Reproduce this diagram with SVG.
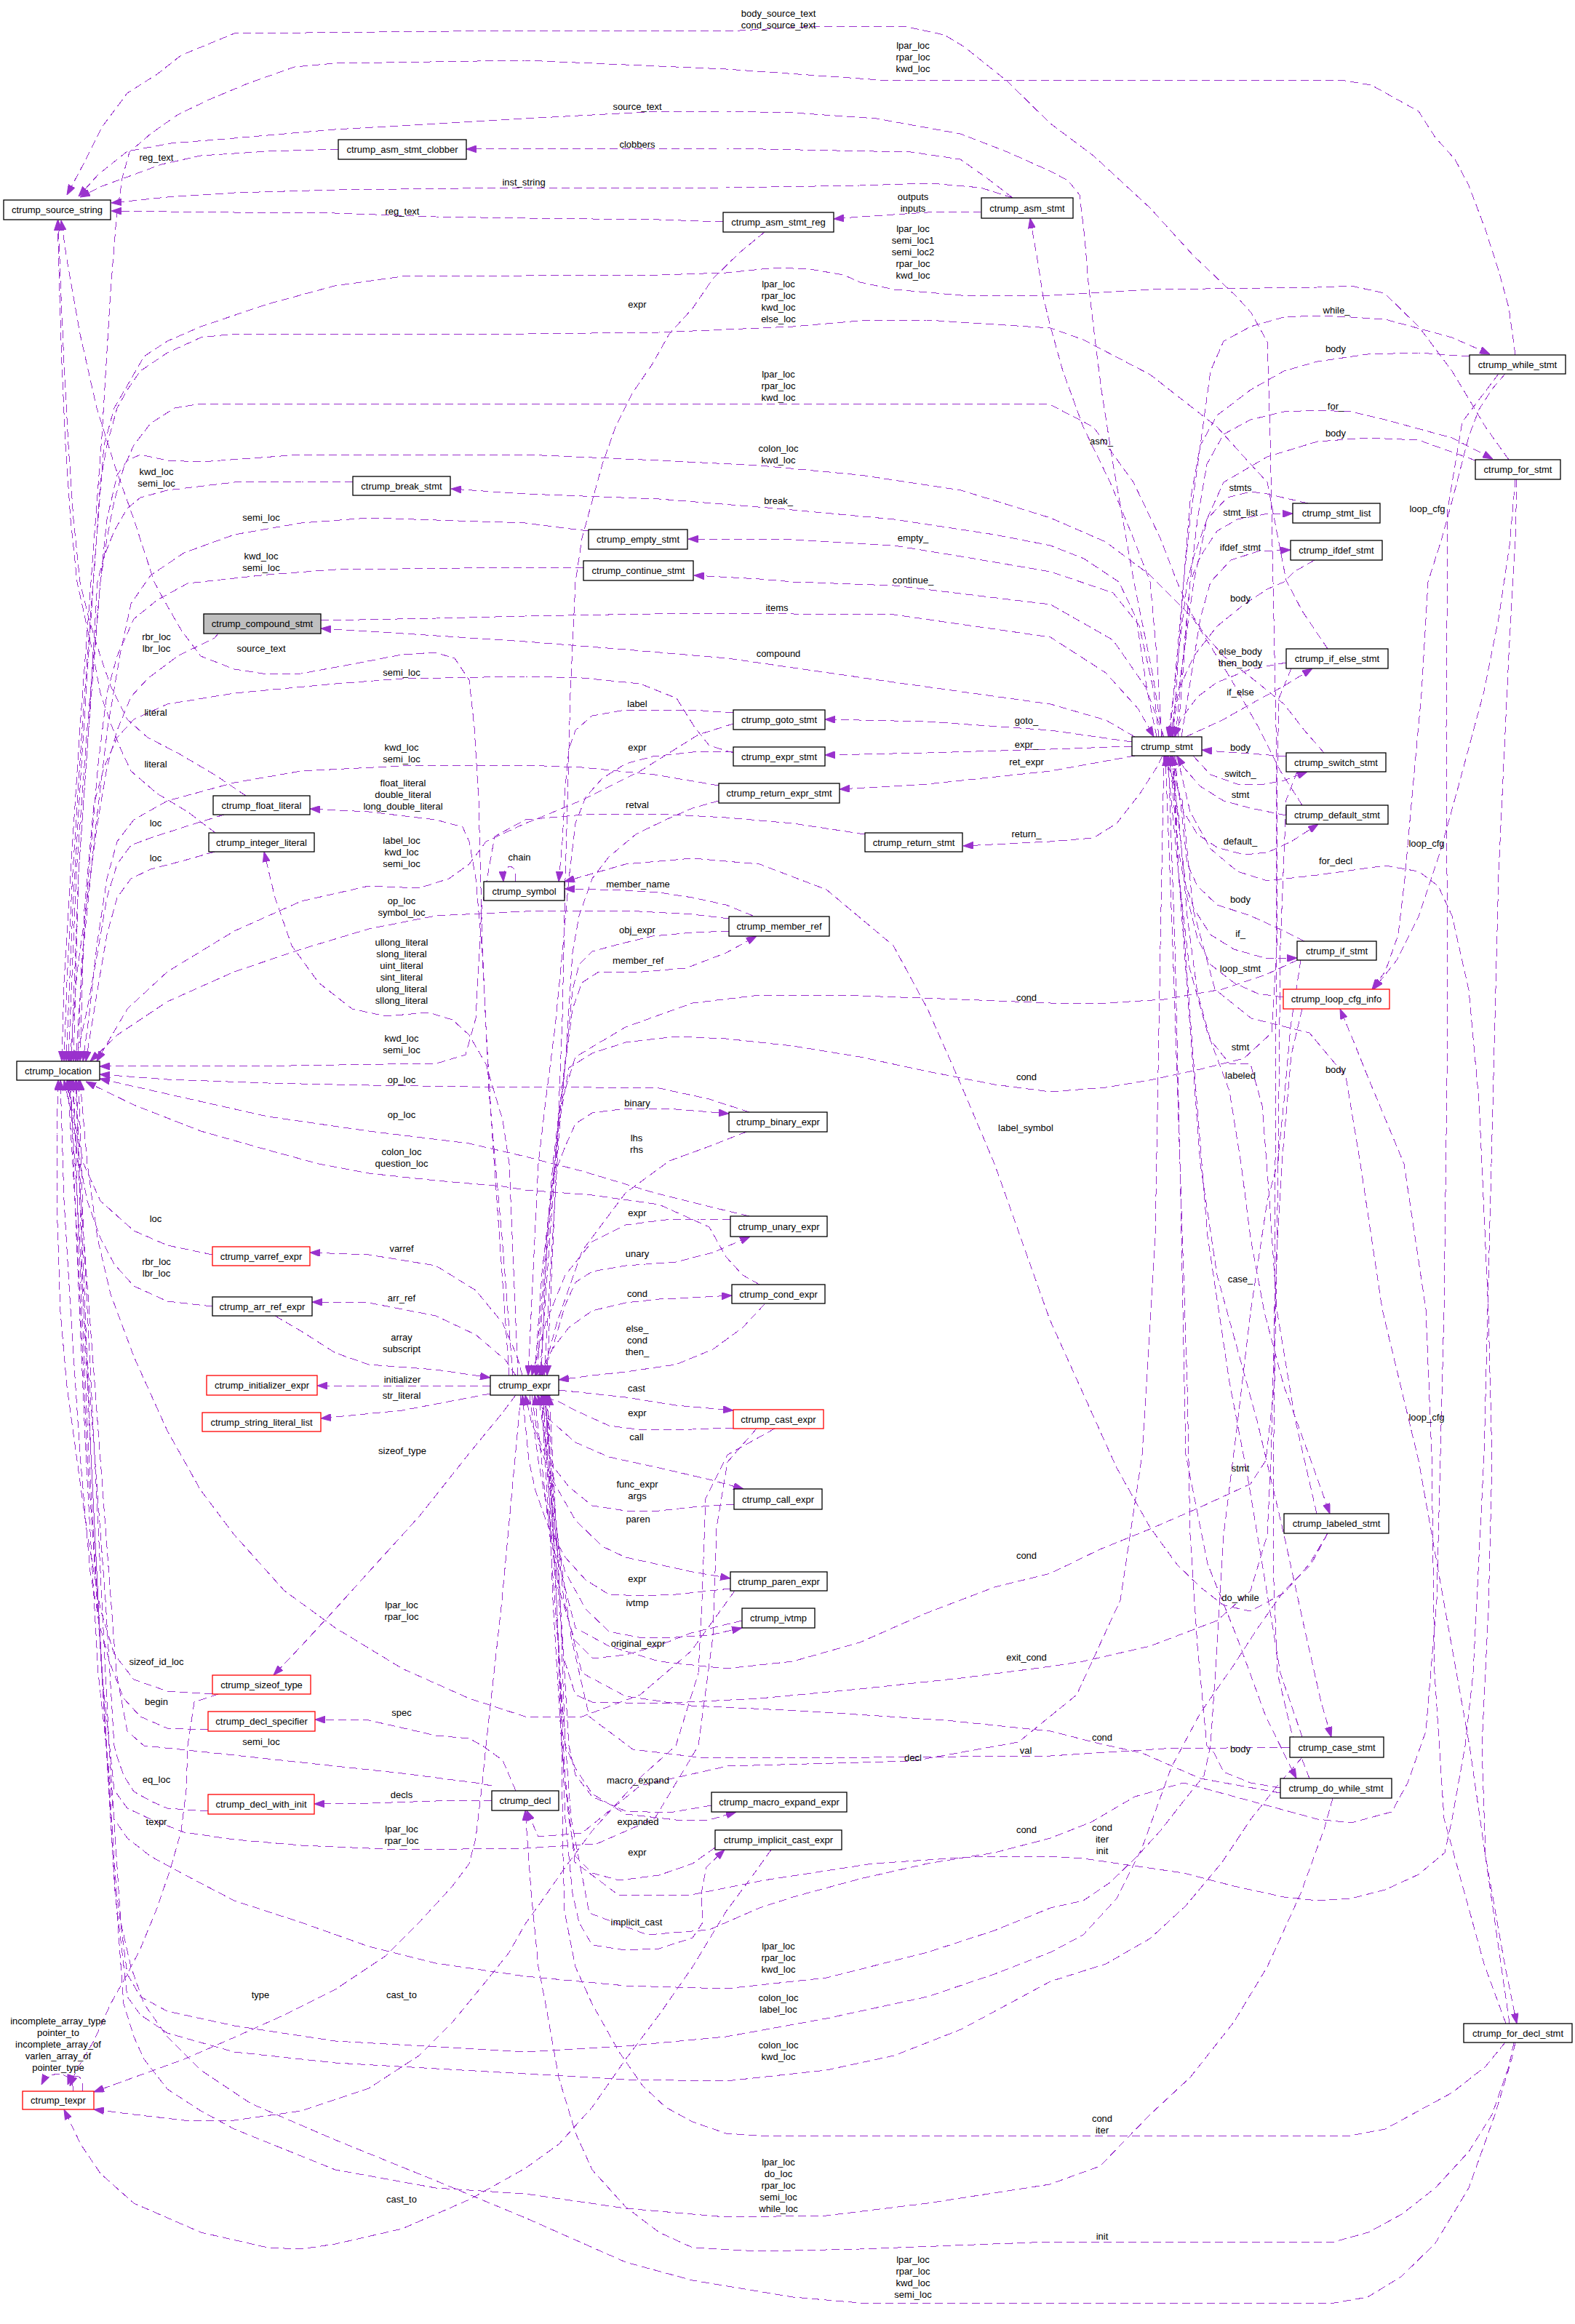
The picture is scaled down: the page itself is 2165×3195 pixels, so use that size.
<svg xmlns="http://www.w3.org/2000/svg" width="2165" height="3195" viewBox="0 0 2165 3195">
<defs>
<marker id="a" markerWidth="14" markerHeight="10" refX="14" refY="5" orient="auto" markerUnits="userSpaceOnUse"><path d="M0,0 L14,5 L0,10 z" fill="#9a32cd" stroke="#9a32cd" stroke-width="1"/></marker>
<style>
.e{fill:none;stroke:#9a32cd;stroke-width:1;stroke-dasharray:11,6;stroke-linejoin:round;shape-rendering:crispEdges;marker-end:url(#a)}
.n{fill:#fff;stroke:#000;stroke-width:1.3}
.r{fill:#fff;stroke:#f00;stroke-width:1.3}
.g{fill:#bfbfbf;stroke:#000;stroke-width:1.3}
text{font-family:"Liberation Sans",Arial,sans-serif;font-size:13px;text-anchor:middle;fill:#000}
</style>
</defs>
<rect width="2165" height="3195" fill="#fff"/>
<g id="edges">
<path class="e" d="M1800,2445 1775,2380 1756,2300 1750,2150 1752,1800 1754,1400 1754,1000 1750,800 1746,600 1742,470 1720,430 1700,408 1641,352 1581,286 1503,214 1444,170 1385,112 1325,64 1298,48 1242,36 1123,36 1017,42 722,42 322,46 249,76 216,102 175,128 140,175 115,225 92,268"/>
<path class="e" d="M1598,1013 1585,930 1558,796 1530,638 1514,536 1503,449 1496,388 1491,326 1484,268 1468,248 1443,235 1385,209 1320,184 1205,163 1090,155 998,153 906,153 814,158 722,163 460,178 322,190 235,197 175,208 135,240 108,270"/>
<path class="e" d="M465,205 368,208 276,214 222,226 184,240 140,256 110,271"/>
<path class="e" d="M1392,272 1348,258 1279,252 1182,255 998,258 722,258 460,261 322,265 230,271 153,279"/>
<path class="e" d="M994,305 906,302 722,300 599,298 460,293 322,292 230,291 153,290"/>
<path class="e" d="M705,1891 690,1700 672,1500 663,1300 658,1100 652,1000 645,935 625,905 598,897 552,900 490,912 414,926 368,927 322,920 276,902 249,866 226,826 212,800 184,714 157,638 133,561 110,459 92,357 84,303"/>
<path class="e" d="M338,1094 295,1065 244,1035 203,1014 175,989 152,943 138,902 122,850 110,800 101,714 94,612 88,500 84,408 80,303"/>
<path class="e" d="M296,1145 258,1116 216,1091 180,1060 166,1030 152,994 138,953 128,900 117,850 106,800 97,714 90,612 85,500 82,408 79,303"/>
<path class="e" d="M2083,488 2074,423 2060,372 2042,316 2019,255 2000,219 1973,189 1950,153 1885,117 1843,110 1443,110 1210,110 998,95 722,83 460,87 405,92 340,115 285,138 244,158 207,184 178,209 168,245 160,300 152,400 140,600 125,800 110,1000 97,1200 88,1350 85,1459"/>
<path class="e" d="M2074,632 2042,587 1996,510 1950,449 1903,403 1857,393 1811,395 1581,398 1443,406 1321,406 1229,398 1182,388 1160,378 1113,370 1067,368 998,375 906,378 722,379 553,380 460,393 368,418 276,449 230,469 198,490 175,530 157,561 143,612 128,800 113,1000 100,1200 92,1350 88,1459"/>
<path class="e" d="M1825,892 1790,840 1768,798 1742,663 1719,638 1673,587 1581,515 1489,467 1444,451 1274,440 1182,441 1090,449 906,457 722,459 322,459 276,464 230,485 193,510 175,536 161,561 147,612 138,663 125,850 112,1050 100,1250 91,1459"/>
<path class="e" d="M1820,1035 1793,1004 1765,968 1728,938 1682,902 1655,871 1636,841 1618,800 1595,740 1558,663 1503,587 1443,556 1000,555 722,555 276,555 240,561 207,582 184,612 170,643 157,689 147,740 138,800 120,1000 105,1200 94,1459"/>
<path class="e" d="M1790,1107 1760,1060 1730,1000 1690,930 1640,850 1580,790 1520,745 1444,712 1321,674 1182,653 1044,640 906,633 722,625 414,625 276,635 230,633 193,625 175,633 161,653 147,714 138,800 122,1000 108,1200 98,1459"/>
<path class="e" d="M485,663 414,662 322,663 230,674 193,684 175,699 157,730 143,765 134,800 122,1000 108,1200 101,1459"/>
<path class="e" d="M809,730 768,725 722,719 507,712 414,719 322,735 253,760 207,791 180,830 165,900 148,1000 130,1150 115,1300 104,1459"/>
<path class="e" d="M802,781 722,780 461,783 368,790 276,800 258,802 216,825 184,851 161,902 147,953 135,1050 122,1200 112,1330 107,1459"/>
<path class="e" d="M300,871 295,877 244,902 203,933 180,958 161,1004 147,1055 134,1132 120,1234 106,1336 96,1459"/>
<path class="e" d="M1008,1035 975,1025 955,1000 930,960 880,940 800,932 722,930 553,933 461,940 322,953 230,968 184,989 161,1014 143,1055 129,1106 116,1250 110,1459"/>
<path class="e" d="M988,1080 900,1065 800,1055 722,1052 553,1053 414,1060 322,1076 230,1101 184,1127 161,1157 147,1208 133,1300 122,1400 114,1459"/>
<path class="e" d="M1008,995 960,1010 880,1060 800,1100 740,1125 722,1132 668,1157 645,1188 617,1208 576,1221 507,1218 414,1239 322,1280 230,1336 175,1387 133,1459"/>
<path class="e" d="M1189,1147 1090,1132 998,1124 906,1119 814,1119 722,1127 680,1150 662,1250 654,1400 640,1450 600,1462 400,1465 137,1466"/>
<path class="e" d="M1002,1263 952,1257 860,1252 722,1253 599,1259 507,1277 414,1305 322,1336 230,1377 161,1423 124,1459"/>
<path class="e" d="M1030,1529 975,1511 906,1496 722,1494 645,1494 507,1492 368,1489 230,1484 137,1477"/>
<path class="e" d="M1030,1672 980,1660 900,1640 800,1610 722,1590 645,1572 507,1555 368,1535 230,1504 137,1483"/>
<path class="e" d="M1044,1766 1021,1753 998,1728 975,1687 906,1656 814,1643 722,1636 691,1631 599,1623 507,1613 438,1600 368,1581 276,1555 184,1519 118,1487"/>
<path class="e" d="M292,1725 230,1712 184,1692 138,1651 115,1600 100,1530 92,1485"/>
<path class="e" d="M292,1796 230,1789 184,1768 157,1738 138,1702 120,1651 110,1600 98,1530 88,1485"/>
<path class="e" d="M292,2329 230,2325 184,2309 157,2274 138,2212 120,2110 106,2008 92,1906 83,1804 78,1651 78,1560 80,1485"/>
<path class="e" d="M286,2378 230,2376 193,2360 170,2335 152,2289 138,2238 124,2161 110,2000 97,1800 88,1650 83,1485"/>
<path class="e" d="M286,2490 230,2486 207,2476 184,2463 170,2441 161,2415 157,2400 145,2200 130,2000 115,1800 103,1600 95,1485"/>
<path class="e" d="M676,2455 654,2451 553,2438 461,2428 368,2418 276,2408 198,2400 175,2380 160,2300 145,2100 130,1900 115,1700 104,1560 99,1485"/>
<path class="e" d="M308,1120 253,1137 207,1152 180,1162 161,1188 147,1234 134,1310 120,1387 104,1459"/>
<path class="e" d="M295,1171 253,1183 207,1195 180,1208 161,1234 147,1285 134,1361 118,1459"/>
<path class="e" d="M1010,2187 950,2270 880,2330 800,2360 722,2360 645,2335 553,2294 461,2238 391,2187 322,2110 276,2049 230,1967 184,1865 152,1779 134,1702 120,1600 110,1485"/>
<path class="e" d="M1040,1964 1000,2010 985,2100 980,2250 960,2400 900,2500 820,2535 722,2541 553,2543 414,2537 322,2529 253,2519 207,2501 175,2486 157,2461 140,2300 125,2000 113,1700 105,1485"/>
<path class="e" d="M1788,1320 1774,1412 1765,1514 1756,1600 1742,1651 1719,1804 1701,1957 1682,2110 1673,2263 1664,2400 1655,2441 1627,2476 1595,2517 1563,2552 1526,2588 1489,2613 1444,2623 1367,2654 1275,2684 1136,2719 998,2734 860,2730 722,2717 599,2699 507,2676 414,2643 322,2613 253,2577 207,2552 175,2527 157,2501 135,2300 118,2000 105,1700 97,1485"/>
<path class="e" d="M1825,2108 1802,2151 1765,2187 1729,2238 1696,2289 1650,2355 1610,2430 1570,2540 1535,2610 1489,2660 1444,2684 1367,2714 1275,2745 1136,2775 998,2800 860,2813 722,2821 461,2806 322,2785 230,2765 193,2745 175,2714 160,2600 140,2300 120,2000 106,1700 93,1485"/>
<path class="e" d="M1790,2416 1760,2450 1720,2500 1680,2560 1630,2620 1581,2665 1520,2700 1444,2724 1321,2790 1229,2826 1136,2846 998,2861 860,2859 722,2851 461,2836 322,2821 230,2795 193,2770 175,2745 158,2600 140,2300 122,2000 108,1700 101,1485"/>
<path class="e" d="M1832,2472 1821,2512 1788,2603 1742,2704 1696,2780 1636,2856 1581,2907 1512,2978 1443,3003 1275,3029 1136,3046 998,3048 860,3036 722,3016 599,3008 461,2983 322,2927 276,2902 230,2872 198,2831 184,2800 170,2755 155,2550 135,2200 115,1800 104,1485"/>
<path class="e" d="M2083,2808 2078,2831 2055,2907 2019,3008 1973,3084 1926,3130 1880,3158 1834,3166 1443,3166 1182,3166 1090,3158 952,3135 860,3110 722,3049 599,2998 461,2942 345,2892 276,2846 230,2800 198,2755 180,2704 166,2643 150,2400 130,2000 115,1700 108,1485"/>
<path class="e" d="M1597,1013 1590,900 1581,800 1558,740 1526,663 1489,587 1461,510 1444,449 1434,408 1426,357 1416,300"/>
<path class="e" d="M1590,1013 1577,950 1562,850 1538,800 1490,768 1444,750 1367,735 1229,714 1067,699 906,686 722,679 620,672"/>
<path class="e" d="M1593,1013 1586,950 1566,860 1530,815 1444,786 1321,765 1229,750 1090,742 946,741"/>
<path class="e" d="M1600,1013 1575,945 1530,880 1444,831 1229,805 1090,800 1044,796 954,791"/>
<path class="e" d="M1556,1020 1444,1004 1275,992 1134,989"/>
<path class="e" d="M1556,1026 1444,1030 1275,1035 1134,1038"/>
<path class="e" d="M1560,1039 1444,1060 1275,1078 1154,1085"/>
<path class="e" d="M1598,1039 1590,1055 1567,1091 1535,1132 1503,1152 1443,1157 1324,1163"/>
<path class="e" d="M1612,1013 1627,800 1636,714 1650,612 1664,510 1682,469 1719,449 1765,436 1811,434 1857,436 1904,439 1996,464 2048,487"/>
<path class="e" d="M1616,1013 1636,800 1646,714 1659,638 1682,597 1719,577 1765,566 1811,564 1857,566 1904,577 1996,602 2052,631"/>
<path class="e" d="M1619,1013 1636,800 1650,765 1673,730 1701,714 1738,707 1777,706"/>
<path class="e" d="M1624,1013 1650,850 1664,800 1692,770 1729,758 1774,756"/>
<path class="e" d="M1630,1013 1682,989 1719,968 1765,943 1804,919"/>
<path class="e" d="M1640,1039 1664,1065 1701,1078 1738,1078 1765,1073 1797,1061"/>
<path class="e" d="M1616,1039 1618,1081 1627,1116 1646,1147 1673,1165 1710,1175 1742,1172 1775,1157 1812,1133"/>
<path class="e" d="M1608,1039 1618,1157 1627,1208 1641,1249 1664,1285 1696,1305 1742,1318 1783,1317"/>
<path class="e" d="M1560,1013 1520,990 1444,968 1229,938 1000,905 860,893 722,882 570,872 441,864"/>
<path class="e" d="M1612,1039 1620,1200 1635,1330 1660,1420 1690,1500 1706,1600 1719,1702 1738,1804 1765,1906 1802,2008 1828,2081"/>
<path class="e" d="M1614,1039 1620,1200 1635,1400 1650,1600 1673,1753 1701,1855 1729,1957 1765,2110 1793,2238 1816,2340 1830,2388"/>
<path class="e" d="M1606,1039 1615,1300 1622,1600 1630,2000 1660,2150 1700,2250 1740,2360 1782,2445"/>
<path class="e" d="M1618,1039 1636,1116 1664,1167 1701,1198 1742,1211 1811,1203 1904,1190 1950,1198 1977,1218 1996,1259 2019,1361 2033,1514 2037,1600 2046,1804 2051,2008 2046,2212 2037,2400 2042,2552 2069,2704 2085,2782"/>
<path class="e" d="M441,853 600,850 722,847 952,843 1229,845 1444,876 1520,925 1565,975 1586,1013"/>
<path class="e" d="M2020,490 1950,485 1880,487 1811,497 1765,510 1719,536 1673,571 1650,612 1636,689 1627,800 1608,1013"/>
<path class="e" d="M2028,633 1950,605 1880,602 1811,607 1742,628 1682,663 1659,714 1641,800 1620,950 1611,1013"/>
<path class="e" d="M1798,692 1742,679 1719,676 1687,684 1659,714 1641,765 1632,800 1606,1013"/>
<path class="e" d="M1807,770 1779,786 1765,800 1742,810 1710,831 1673,861 1641,902 1618,953 1609,1013"/>
<path class="e" d="M1768,911 1719,920 1673,938 1646,958 1623,989 1614,1013"/>
<path class="e" d="M1768,1040 1719,1036 1673,1033 1652,1031"/>
<path class="e" d="M1768,1121 1719,1111 1682,1101 1650,1081 1627,1055 1618,1039"/>
<path class="e" d="M1793,1294 1765,1280 1719,1259 1673,1244 1646,1218 1632,1188 1623,1106 1612,1039"/>
<path class="e" d="M1764,1371 1729,1366 1696,1351 1664,1326 1646,1290 1632,1234 1623,1157 1610,1039"/>
<path class="e" d="M1810,2081 1780,1950 1755,1800 1745,1650 1735,1520 1719,1463 1690,1462 1664,1430 1646,1365 1632,1260 1620,1120 1606,1039"/>
<path class="e" d="M1790,2388 1760,2300 1735,2150 1715,2030 1690,1900 1660,1700 1640,1450 1625,1250 1604,1039"/>
<path class="e" d="M1760,2458 1719,2451 1682,2436 1669,2410 1659,2400 1646,2263 1636,2110 1632,1906 1627,1753 1622,1600 1612,1300 1602,1039"/>
<path class="e" d="M2075,2782 2020,2400 1950,2008 1900,1800 1870,1600 1850,1480 1800,1420 1720,1400 1670,1360 1640,1250 1625,1100 1600,1039"/>
<path class="e" d="M2069,514 2051,535 2033,563 2019,600 1996,689 1982,740 1963,800 1954,953 1940,1106 1931,1208 1922,1285 1904,1336 1886,1360"/>
<path class="e" d="M2083,659 2075,750 2060,850 2040,950 2005,1080 1980,1170 1950,1260 1920,1320 1888,1360"/>
<path class="e" d="M2070,2782 2040,2700 1985,2500 1972,2300 1968,2000 1960,1800 1930,1600 1880,1480 1860,1430 1842,1387"/>
<path class="e" d="M735,1891 745,1750 760,1620 777,1576 791,1545 814,1530 860,1524 929,1525 1002,1531"/>
<path class="e" d="M740,1891 759,1855 777,1794 791,1763 814,1748 860,1740 929,1735 980,1722 1031,1700"/>
<path class="e" d="M745,1891 759,1855 782,1825 814,1802 860,1791 906,1786 952,1784 1006,1781"/>
<path class="e" d="M768,1911 814,1916 860,1921 929,1932 1008,1939"/>
<path class="e" d="M738,1918 750,1947 791,1983 837,2003 906,2018 975,2034 1022,2047"/>
<path class="e" d="M731,1918 740,1983 759,2034 791,2090 828,2126 860,2141 906,2151 952,2161 1004,2170"/>
<path class="e" d="M728,1918 740,2008 754,2085 777,2161 805,2212 837,2243 883,2252 929,2251 975,2248 1020,2238"/>
<path class="e" d="M748,1891 768,1565 777,1463 787,1387 800,1351 823,1336 883,1336 943,1331 998,1310 1040,1287"/>
<path class="e" d="M718,1891 711,1865 691,1819 654,1774 599,1740 507,1725 426,1722"/>
<path class="e" d="M709,1891 695,1870 654,1835 599,1809 507,1791 429,1790"/>
<path class="e" d="M674,1905 436,1905"/>
<path class="e" d="M674,1916 553,1939 441,1950"/>
<path class="e" d="M709,1918 691,1942 645,1998 576,2085 507,2161 461,2212 414,2263 376,2303"/>
<path class="e" d="M750,1918 770,2200 777,2400 791,2431 814,2466 860,2494 929,2502 975,2502 1012,2491"/>
<path class="e" d="M745,1918 765,2200 773,2400 777,2501 782,2552 787,2603 796,2643 814,2674 860,2681 906,2679 952,2664 966,2643 964,2603 971,2567 996,2543"/>
<path class="e" d="M700,1891 677,1565 668,1412 663,1310 654,1208 645,1157 636,1137 599,1127 507,1116 426,1112"/>
<path class="e" d="M712,1891 700,1600 691,1540 668,1463 645,1423 622,1402 589,1392 530,1397 484,1387 438,1351 401,1300 378,1234 363,1171"/>
<path class="e" d="M716,1918 690,2200 668,2400 663,2451 654,2527 645,2562 622,2593 576,2643 530,2689 461,2735 391,2770 322,2801 253,2831 184,2856 129,2876"/>
<path class="e" d="M1051,319 1017,347 980,383 952,424 920,459 897,500 869,541 846,587 828,638 814,689 800,740 791,800 784,953 780,1106 777,1208 773,1400 765,1600 752,1891"/>
<path class="e" d="M1008,1033 952,1034 897,1040 860,1050 828,1070 805,1096 791,1132 782,1208 773,1310 763,1412 750,1514 740,1600 726,1891"/>
<path class="e" d="M988,1101 952,1111 915,1127 874,1147 837,1178 814,1208 796,1259 787,1310 778,1450 760,1600 736,1891"/>
<path class="e" d="M1002,1280 952,1282 897,1287 851,1298 814,1308 796,1326 787,1361 777,1463 766,1565 742,1891"/>
<path class="e" d="M1026,1556 975,1576 920,1596 860,1640 800,1720 765,1820 746,1891"/>
<path class="e" d="M1004,1677 962,1676 915,1677 860,1684 814,1707 777,1753 750,1819 731,1891"/>
<path class="e" d="M1051,1793 1021,1825 980,1855 929,1876 860,1886 814,1891 768,1897"/>
<path class="e" d="M1008,1963 952,1965 883,1966 837,1960 791,1939 768,1927 742,1918"/>
<path class="e" d="M1009,2068 952,2072 906,2077 860,2077 814,2070 782,2044 754,2008 731,1957 722,1918"/>
<path class="e" d="M1004,2184 929,2192 883,2194 837,2192 805,2172 777,2141 754,2100 736,2049 727,2008 722,1957 718,1918"/>
<path class="e" d="M378,1809 414,1830 461,1860 507,1876 599,1883 674,1894"/>
<path class="e" d="M1783,1320 1740,1340 1680,1360 1600,1374 1520,1379 1444,1379 1321,1374 1182,1369 1044,1368 952,1379 860,1412 791,1453 770,1520 758,1650 738,1891"/>
<path class="e" d="M1775,919 1758,960 1755,1100 1755,1300 1748,1420 1710,1455 1650,1470 1580,1485 1520,1495 1444,1501 1367,1491 1275,1473 1182,1453 1090,1438 998,1428 929,1425 860,1433 814,1448 782,1468 766,1560 752,1700 744,1891"/>
<path class="e" d="M1783,1061 1768,1100 1760,1300 1757,1600 1752,1900 1740,2008 1719,2040 1650,2072 1581,2102 1512,2130 1444,2163 1367,2182 1275,2217 1182,2258 1090,2284 998,2294 906,2284 837,2263 791,2238 768,2150 752,2000 740,1918"/>
<path class="e" d="M2060,514 2010,580 1990,700 1988,1000 1990,1400 1985,1800 1975,2200 1960,2380 1935,2451 1913,2491 1857,2506 1811,2501 1719,2476 1627,2451 1560,2470 1500,2505 1444,2527 1367,2547 1275,2562 1182,2583 1090,2608 1044,2623 975,2653 890,2660 810,2630 785,2500 770,2300 755,2100 744,1918"/>
<path class="e" d="M1760,2465 1650,2445 1570,2410 1515,2398 1444,2380 1300,2365 1100,2352 950,2345 860,2332 800,2300 775,2200 760,2050 748,1918"/>
<path class="e" d="M1773,2402 1600,2404 1444,2414 1200,2416 960,2416 870,2405 810,2360 785,2250 765,2100 752,1918"/>
<path class="e" d="M1790,1387 1775,1450 1762,1600 1756,1702 1751,1855 1747,2008 1742,2110 1719,2187 1673,2228 1581,2263 1489,2284 1444,2291 1321,2307 1182,2322 1044,2335 906,2342 814,2340 791,2330 775,2280 760,2100 746,1918"/>
<path class="e" d="M2085,659 2083,740 2074,900 2060,1200 2050,1600 2040,2000 2025,2300 2014,2400 1996,2501 1986,2547 1950,2577 1904,2598 1857,2610 1811,2613 1765,2608 1696,2593 1627,2575 1558,2565 1489,2555 1443,2552 1350,2552 1200,2562 1050,2585 950,2605 850,2605 790,2560 772,2400 760,2200 750,1918"/>
<path class="e" d="M2069,2808 2042,2841 1996,2877 1950,2902 1904,2927 1857,2936 1444,2936 1044,2936 998,2933 952,2917 915,2897 883,2867 851,2821 814,2755 791,2704 776,2628 774,2552 772,2400 765,2200 752,1918"/>
<path class="e" d="M983,2540 952,2562 906,2578 851,2585 814,2575 791,2552 782,2501 777,2451 770,2300 760,2100 750,1918"/>
<path class="e" d="M978,2482 920,2492 860,2490 814,2470 791,2440 782,2400 770,2200 755,1918"/>
<path class="e" d="M1020,2228 950,2245 906,2262 860,2275 815,2280 790,2255 770,2190 752,2080 735,1918"/>
<path class="e" d="M100,2875 C104,2848 68,2843 57,2866"/>
<path class="e" d="M113,2875 C118,2853 100,2846 93,2866"/>
<path class="e" d="M300,2329 267,2340 258,2400 256,2461 249,2517 235,2567 216,2623 193,2679 175,2714 152,2755 129,2806 105,2846 96,2868"/>
<path class="e" d="M1065,1964 1000,2000 970,2060 965,2200 960,2300 929,2400 883,2441 851,2476 814,2517 777,2567 745,2613 722,2645 700,2684 668,2724 622,2780 576,2826 507,2871 414,2902 322,2915 253,2915 184,2907 129,2900"/>
<path class="e" d="M1060,2543 1035,2578 998,2628 952,2704 906,2770 860,2831 814,2897 768,2948 722,2981 645,3024 553,3064 461,3085 414,3092 368,3090 276,3069 184,3029 138,2988 111,2948 88,2900"/>
<path class="e" d="M709,2462 691,2420 663,2400 645,2390 599,2386 507,2365 433,2364"/>
<path class="e" d="M676,2475 599,2476 507,2479 432,2480"/>
<path class="e" d="M1600,1039 1595,1300 1588,1700 1570,2000 1540,2200 1480,2330 1400,2395 1255,2421 1000,2428 880,2455 800,2520 740,2525 724,2489"/>
<path class="e" d="M2081,2808 2074,2841 2051,2907 2019,2958 1973,3008 1927,3044 1881,3069 1834,3082 1444,3082 1182,3092 1044,3095 952,3090 906,3069 860,3034 814,2983 791,2932 768,2856 750,2755 740,2704 730,2600 722,2489"/>
<path class="e" d="M1008,980 952,976 906,976 860,976 814,984 791,1004 782,1030 777,1081 773,1157 768,1212"/>
<path class="e" d="M1035,1259 998,1244 952,1234 906,1227 860,1224 776,1222"/>
<path class="e" d="M708,1212 C714,1186 690,1183 692,1212"/>
<path class="e" d="M1825,2108 1800,2150 1765,2190 1719,2215 1682,2207 1650,2182 1618,2151 1581,2100 1535,2018 1489,1916 1443,1814 1367,1600 1320,1489 1275,1387 1228,1300 1136,1223 1044,1188 952,1180 860,1188 776,1212"/>
<path class="e" d="M1349,291 1275,292 1182,298 1146,301"/>
<path class="e" d="M1392,272 1357,245 1320,219 1252,209 998,204 722,204 641,205"/>
</g>
<g id="labels">
<text x="1070" y="23"><tspan x="1070">body_source_text</tspan><tspan x="1070" dy="16">cond_source_text</tspan></text>
<text x="1255" y="67"><tspan x="1255">lpar_loc</tspan><tspan x="1255" dy="16">rpar_loc</tspan><tspan x="1255" dy="16">kwd_loc</tspan></text>
<text x="876" y="151">source_text</text>
<text x="876" y="203">clobbers</text>
<text x="215" y="221">reg_text</text>
<text x="720" y="255">inst_string</text>
<text x="1255" y="275"><tspan x="1255">outputs</tspan><tspan x="1255" dy="16">inputs</tspan></text>
<text x="553" y="295">reg_text</text>
<text x="1255" y="319"><tspan x="1255">lpar_loc</tspan><tspan x="1255" dy="16">semi_loc1</tspan><tspan x="1255" dy="16">semi_loc2</tspan><tspan x="1255" dy="16">rpar_loc</tspan><tspan x="1255" dy="16">kwd_loc</tspan></text>
<text x="1070" y="395"><tspan x="1070">lpar_loc</tspan><tspan x="1070" dy="16">rpar_loc</tspan><tspan x="1070" dy="16">kwd_loc</tspan><tspan x="1070" dy="16">else_loc</tspan></text>
<text x="876" y="423">expr</text>
<text x="1837" y="431">while_</text>
<text x="1836" y="484">body</text>
<text x="1070" y="519"><tspan x="1070">lpar_loc</tspan><tspan x="1070" dy="16">rpar_loc</tspan><tspan x="1070" dy="16">kwd_loc</tspan></text>
<text x="1836" y="563">for_</text>
<text x="1836" y="600">body</text>
<text x="1514" y="611">asm_</text>
<text x="1070" y="621"><tspan x="1070">colon_loc</tspan><tspan x="1070" dy="16">kwd_loc</tspan></text>
<text x="215" y="653"><tspan x="215">kwd_loc</tspan><tspan x="215" dy="16">semi_loc</tspan></text>
<text x="1705" y="675">stmts</text>
<text x="1070" y="693">break_</text>
<text x="1962" y="704">loop_cfg</text>
<text x="1705" y="709">stmt_list</text>
<text x="359" y="716">semi_loc</text>
<text x="1255" y="744">empty_</text>
<text x="1705" y="757">ifdef_stmt</text>
<text x="359" y="769"><tspan x="359">kwd_loc</tspan><tspan x="359" dy="16">semi_loc</tspan></text>
<text x="1255" y="802">continue_</text>
<text x="1705" y="827">body</text>
<text x="1068" y="840">items</text>
<text x="215" y="880"><tspan x="215">rbr_loc</tspan><tspan x="215" dy="16">lbr_loc</tspan></text>
<text x="359" y="896">source_text</text>
<text x="1705" y="900"><tspan x="1705">else_body</tspan><tspan x="1705" dy="16">then_body</tspan></text>
<text x="1070" y="903">compound</text>
<text x="552" y="929">semi_loc</text>
<text x="1705" y="956">if_else</text>
<text x="876" y="972">label</text>
<text x="214" y="984">literal</text>
<text x="1411" y="995">goto_</text>
<text x="552" y="1032"><tspan x="552">kwd_loc</tspan><tspan x="552" dy="16">semi_loc</tspan></text>
<text x="876" y="1032">expr</text>
<text x="1411" y="1028">expr_</text>
<text x="1705" y="1032">body</text>
<text x="1411" y="1052">ret_expr</text>
<text x="214" y="1055">literal</text>
<text x="1705" y="1068">switch_</text>
<text x="554" y="1081"><tspan x="554">float_literal</tspan><tspan x="554" dy="16">double_literal</tspan><tspan x="554" dy="16">long_double_literal</tspan></text>
<text x="1705" y="1097">stmt</text>
<text x="876" y="1111">retval</text>
<text x="214" y="1136">loc</text>
<text x="1411" y="1151">return_</text>
<text x="552" y="1160"><tspan x="552">label_loc</tspan><tspan x="552" dy="16">kwd_loc</tspan><tspan x="552" dy="16">semi_loc</tspan></text>
<text x="1705" y="1161">default_</text>
<text x="1961" y="1164">loop_cfg</text>
<text x="714" y="1183">chain</text>
<text x="214" y="1184">loc</text>
<text x="1836" y="1188">for_decl</text>
<text x="877" y="1220">member_name</text>
<text x="1705" y="1241">body</text>
<text x="552" y="1243"><tspan x="552">op_loc</tspan><tspan x="552" dy="16">symbol_loc</tspan></text>
<text x="876" y="1283">obj_expr</text>
<text x="1705" y="1288">if_</text>
<text x="552" y="1300"><tspan x="552">ullong_literal</tspan><tspan x="552" dy="16">slong_literal</tspan><tspan x="552" dy="16">uint_literal</tspan><tspan x="552" dy="16">sint_literal</tspan><tspan x="552" dy="16">ulong_literal</tspan><tspan x="552" dy="16">sllong_literal</tspan></text>
<text x="877" y="1325">member_ref</text>
<text x="1705" y="1336">loop_stmt</text>
<text x="1411" y="1376">cond</text>
<text x="552" y="1432"><tspan x="552">kwd_loc</tspan><tspan x="552" dy="16">semi_loc</tspan></text>
<text x="1705" y="1444">stmt</text>
<text x="1836" y="1475">body</text>
<text x="1705" y="1483">labeled</text>
<text x="1411" y="1485">cond</text>
<text x="552" y="1489">op_loc</text>
<text x="876" y="1521">binary</text>
<text x="552" y="1537">op_loc</text>
<text x="1410" y="1555">label_symbol</text>
<text x="875" y="1569"><tspan x="875">lhs</tspan><tspan x="875" dy="16">rhs</tspan></text>
<text x="552" y="1588"><tspan x="552">colon_loc</tspan><tspan x="552" dy="16">question_loc</tspan></text>
<text x="876" y="1672">expr</text>
<text x="214" y="1680">loc</text>
<text x="552" y="1721">varref</text>
<text x="876" y="1728">unary</text>
<text x="215" y="1739"><tspan x="215">rbr_loc</tspan><tspan x="215" dy="16">lbr_loc</tspan></text>
<text x="1705" y="1763">case_</text>
<text x="876" y="1783">cond</text>
<text x="552" y="1789">arr_ref</text>
<text x="876" y="1831"><tspan x="876">else_</tspan><tspan x="876" dy="16">cond</tspan><tspan x="876" dy="16">then_</tspan></text>
<text x="552" y="1843"><tspan x="552">array</tspan><tspan x="552" dy="16">subscript</tspan></text>
<text x="553" y="1901">initializer</text>
<text x="875" y="1913">cast</text>
<text x="552" y="1923">str_literal</text>
<text x="876" y="1947">expr</text>
<text x="1961" y="1953">loop_cfg</text>
<text x="875" y="1980">call</text>
<text x="553" y="1999">sizeof_type</text>
<text x="1705" y="2023">stmt</text>
<text x="876" y="2045"><tspan x="876">func_expr</tspan><tspan x="876" dy="16">args</tspan></text>
<text x="877" y="2093">paren</text>
<text x="1411" y="2143">cond</text>
<text x="876" y="2175">expr</text>
<text x="1705" y="2201">do_while</text>
<text x="876" y="2208">ivtmp</text>
<text x="552" y="2211"><tspan x="552">lpar_loc</tspan><tspan x="552" dy="16">rpar_loc</tspan></text>
<text x="877" y="2264">original_expr</text>
<text x="1411" y="2283">exit_cond</text>
<text x="215" y="2289">sizeof_id_loc</text>
<text x="215" y="2344">begin</text>
<text x="552" y="2359">spec</text>
<text x="1515" y="2393">cond</text>
<text x="359" y="2399">semi_loc</text>
<text x="1705" y="2409">body</text>
<text x="1410" y="2411">val</text>
<text x="1255" y="2421">decl</text>
<text x="215" y="2451">eq_loc</text>
<text x="877" y="2452">macro_expand</text>
<text x="552" y="2472">decls</text>
<text x="877" y="2509">expanded</text>
<text x="215" y="2509">texpr</text>
<text x="1515" y="2517"><tspan x="1515">cond</tspan><tspan x="1515" dy="16">iter</tspan><tspan x="1515" dy="16">init</tspan></text>
<text x="552" y="2519"><tspan x="552">lpar_loc</tspan><tspan x="552" dy="16">rpar_loc</tspan></text>
<text x="1411" y="2520">cond</text>
<text x="876" y="2551">expr</text>
<text x="875" y="2647">implicit_cast</text>
<text x="1070" y="2680"><tspan x="1070">lpar_loc</tspan><tspan x="1070" dy="16">rpar_loc</tspan><tspan x="1070" dy="16">kwd_loc</tspan></text>
<text x="358" y="2747">type</text>
<text x="552" y="2747">cast_to</text>
<text x="1070" y="2751"><tspan x="1070">colon_loc</tspan><tspan x="1070" dy="16">label_loc</tspan></text>
<text x="80" y="2783"><tspan x="80">incomplete_array_type</tspan><tspan x="80" dy="16">pointer_to</tspan><tspan x="80" dy="16">incomplete_array_of</tspan><tspan x="80" dy="16">varlen_array_of</tspan><tspan x="80" dy="16">pointer_type</tspan></text>
<text x="1070" y="2816"><tspan x="1070">colon_loc</tspan><tspan x="1070" dy="16">kwd_loc</tspan></text>
<text x="1515" y="2917"><tspan x="1515">cond</tspan><tspan x="1515" dy="16">iter</tspan></text>
<text x="1070" y="2977"><tspan x="1070">lpar_loc</tspan><tspan x="1070" dy="16">do_loc</tspan><tspan x="1070" dy="16">rpar_loc</tspan><tspan x="1070" dy="16">semi_loc</tspan><tspan x="1070" dy="16">while_loc</tspan></text>
<text x="552" y="3028">cast_to</text>
<text x="1515" y="3079">init</text>
<text x="1255" y="3111"><tspan x="1255">lpar_loc</tspan><tspan x="1255" dy="16">rpar_loc</tspan><tspan x="1255" dy="16">kwd_loc</tspan><tspan x="1255" dy="16">semi_loc</tspan></text>
</g>
<g id="n_source_string"><rect class="n" x="5" y="275" width="147" height="27"/><text x="78.5" y="293">ctrump_source_string</text></g>
<g id="n_asm_stmt_clobber"><rect class="n" x="465" y="192" width="176" height="27"/><text x="553" y="210">ctrump_asm_stmt_clobber</text></g>
<g id="n_break_stmt"><rect class="n" x="485" y="655" width="134" height="26"/><text x="552" y="672.5">ctrump_break_stmt</text></g>
<g id="n_asm_stmt_reg"><rect class="n" x="994" y="292" width="152" height="27"/><text x="1070" y="310">ctrump_asm_stmt_reg</text></g>
<g id="n_asm_stmt"><rect class="n" x="1349" y="272" width="126" height="28"/><text x="1412" y="290.5">ctrump_asm_stmt</text></g>
<g id="n_empty_stmt"><rect class="n" x="809" y="728" width="136" height="27"/><text x="877" y="746">ctrump_empty_stmt</text></g>
<g id="n_continue_stmt"><rect class="n" x="802" y="771" width="151" height="27"/><text x="877.5" y="789">ctrump_continue_stmt</text></g>
<g id="n_while_stmt"><rect class="n" x="2020" y="488" width="132" height="26"/><text x="2086" y="505.5">ctrump_while_stmt</text></g>
<g id="n_for_stmt"><rect class="n" x="2028" y="632" width="117" height="27"/><text x="2086.5" y="650">ctrump_for_stmt</text></g>
<g id="n_stmt_list"><rect class="n" x="1777" y="692" width="120" height="27"/><text x="1837" y="710">ctrump_stmt_list</text></g>
<g id="n_ifdef_stmt"><rect class="n" x="1774" y="743" width="126" height="27"/><text x="1837" y="761">ctrump_ifdef_stmt</text></g>
<g id="n_compound_stmt"><rect class="g" x="280" y="844" width="161" height="27"/><text x="360.5" y="862">ctrump_compound_stmt</text></g>
<g id="n_float_literal"><rect class="n" x="293" y="1094" width="133" height="26"/><text x="359.5" y="1111.5">ctrump_float_literal</text></g>
<g id="n_integer_literal"><rect class="n" x="287" y="1145" width="145" height="26"/><text x="359.5" y="1162.5">ctrump_integer_literal</text></g>
<g id="n_location"><rect class="n" x="23" y="1459" width="114" height="26"/><text x="80" y="1476.5">ctrump_location</text></g>
<g id="n_symbol"><rect class="n" x="665" y="1212" width="111" height="26"/><text x="720.5" y="1229.5">ctrump_symbol</text></g>
<g id="n_goto_stmt"><rect class="n" x="1008" y="976" width="126" height="27"/><text x="1071" y="994">ctrump_goto_stmt</text></g>
<g id="n_expr_stmt"><rect class="n" x="1008" y="1027" width="126" height="26"/><text x="1071" y="1044.5">ctrump_expr_stmt</text></g>
<g id="n_return_expr_stmt"><rect class="n" x="988" y="1077" width="166" height="27"/><text x="1071" y="1095">ctrump_return_expr_stmt</text></g>
<g id="n_return_stmt"><rect class="n" x="1189" y="1145" width="134" height="26"/><text x="1256" y="1162.5">ctrump_return_stmt</text></g>
<g id="n_member_ref"><rect class="n" x="1002" y="1260" width="138" height="27"/><text x="1071" y="1278">ctrump_member_ref</text></g>
<g id="n_binary_expr"><rect class="n" x="1002" y="1529" width="135" height="27"/><text x="1069.5" y="1547">ctrump_binary_expr</text></g>
<g id="n_stmt"><rect class="n" x="1556" y="1013" width="96" height="26"/><text x="1604" y="1030.5">ctrump_stmt</text></g>
<g id="n_if_else_stmt"><rect class="n" x="1768" y="892" width="140" height="27"/><text x="1838" y="910">ctrump_if_else_stmt</text></g>
<g id="n_switch_stmt"><rect class="n" x="1768" y="1035" width="137" height="26"/><text x="1836.5" y="1052.5">ctrump_switch_stmt</text></g>
<g id="n_default_stmt"><rect class="n" x="1768" y="1107" width="140" height="26"/><text x="1838" y="1124.5">ctrump_default_stmt</text></g>
<g id="n_if_stmt"><rect class="n" x="1783" y="1294" width="109" height="26"/><text x="1837.5" y="1311.5">ctrump_if_stmt</text></g>
<g id="n_loop_cfg_info"><rect class="r" x="1764" y="1360" width="146" height="27"/><text x="1837" y="1378">ctrump_loop_cfg_info</text></g>
<g id="n_varref_expr"><rect class="r" x="292" y="1714" width="134" height="26"/><text x="359" y="1731.5">ctrump_varref_expr</text></g>
<g id="n_arr_ref_expr"><rect class="n" x="292" y="1783" width="137" height="26"/><text x="360.5" y="1800.5">ctrump_arr_ref_expr</text></g>
<g id="n_initializer_expr"><rect class="r" x="284" y="1891" width="152" height="27"/><text x="360" y="1909">ctrump_initializer_expr</text></g>
<g id="n_string_literal_list"><rect class="r" x="278" y="1942" width="163" height="26"/><text x="359.5" y="1959.5">ctrump_string_literal_list</text></g>
<g id="n_expr"><rect class="n" x="674" y="1891" width="94" height="27"/><text x="721" y="1909">ctrump_expr</text></g>
<g id="n_unary_expr"><rect class="n" x="1004" y="1672" width="133" height="28"/><text x="1070.5" y="1690.5">ctrump_unary_expr</text></g>
<g id="n_cond_expr"><rect class="n" x="1006" y="1766" width="128" height="26"/><text x="1070" y="1783.5">ctrump_cond_expr</text></g>
<g id="n_cast_expr"><rect class="r" x="1008" y="1938" width="124" height="26"/><text x="1070" y="1955.5">ctrump_cast_expr</text></g>
<g id="n_call_expr"><rect class="n" x="1009" y="2047" width="121" height="28"/><text x="1069.5" y="2065.5">ctrump_call_expr</text></g>
<g id="n_paren_expr"><rect class="n" x="1004" y="2161" width="133" height="26"/><text x="1070.5" y="2178.5">ctrump_paren_expr</text></g>
<g id="n_ivtmp"><rect class="n" x="1020" y="2211" width="100" height="27"/><text x="1070" y="2229">ctrump_ivtmp</text></g>
<g id="n_labeled_stmt"><rect class="n" x="1765" y="2081" width="144" height="27"/><text x="1837" y="2099">ctrump_labeled_stmt</text></g>
<g id="n_sizeof_type"><rect class="r" x="292" y="2303" width="135" height="26"/><text x="359.5" y="2320.5">ctrump_sizeof_type</text></g>
<g id="n_decl_specifier"><rect class="r" x="286" y="2353" width="147" height="27"/><text x="359.5" y="2371">ctrump_decl_specifier</text></g>
<g id="n_decl_with_init"><rect class="r" x="286" y="2467" width="146" height="27"/><text x="359" y="2485">ctrump_decl_with_init</text></g>
<g id="n_decl"><rect class="n" x="676" y="2462" width="92" height="27"/><text x="722" y="2480">ctrump_decl</text></g>
<g id="n_macro_expand_expr"><rect class="n" x="978" y="2464" width="186" height="27"/><text x="1071" y="2482">ctrump_macro_expand_expr</text></g>
<g id="n_implicit_cast_expr"><rect class="n" x="983" y="2516" width="174" height="27"/><text x="1070" y="2534">ctrump_implicit_cast_expr</text></g>
<g id="n_case_stmt"><rect class="n" x="1773" y="2388" width="129" height="28"/><text x="1837.5" y="2406.5">ctrump_case_stmt</text></g>
<g id="n_do_while_stmt"><rect class="n" x="1760" y="2445" width="153" height="27"/><text x="1836.5" y="2463">ctrump_do_while_stmt</text></g>
<g id="n_for_decl_stmt"><rect class="n" x="2012" y="2782" width="149" height="26"/><text x="2086.5" y="2799.5">ctrump_for_decl_stmt</text></g>
<g id="n_texpr"><rect class="r" x="31" y="2875" width="98" height="25"/><text x="80" y="2892">ctrump_texpr</text></g>
</svg>
